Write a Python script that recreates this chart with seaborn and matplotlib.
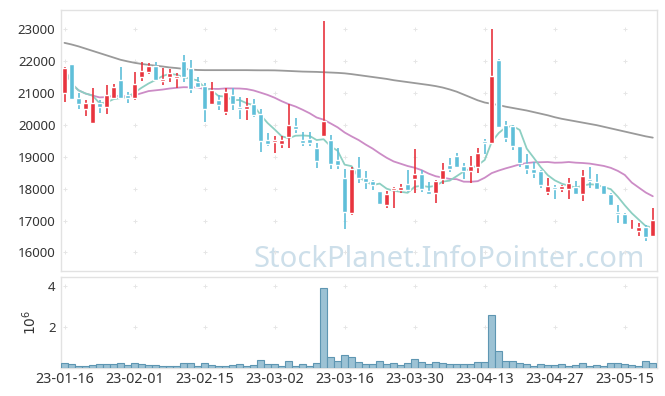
import numpy as np
import pandas as pd
import seaborn as sns
import matplotlib.pyplot as plt

# 일별 시세 (2023-01-16 ~ 2023-05-19, 85 거래일)
opens = [21000, 21900, 20850, 20500, 20060, 20690, 20565, 20830, 21410, 20930,
         20830, 21505, 21660, 21850, 21380, 21500, 21470, 22000, 21770, 21350,
         21220, 20650, 20770, 20410, 20930, 20530, 20490, 20650, 20330, 19520,
         19460, 19400, 19620, 19960, 19520, 19550, 19260, 19655, 19520, 18890,
         18350, 17240, 18650, 18340, 18240, 17920, 17480, 17944, 17950, 18140,
         18300, 18455, 17920, 17850, 18300, 18740, 19020, 18700, 18560, 18690,
         19490, 19440, 22030, 19990, 19960, 19330, 18770, 18630, 18560, 17900,
         18060, 17985, 17995, 18055, 17820, 18300, 18210, 18110, 17830, 17270,
         17220, 16690, 16670, 16800, 16520]
highs = [21800, 21900, 21000, 20770, 21140, 20770, 21240, 21270, 21820, 21030,
         21660, 21975, 21925, 21975, 21770, 21750, 21620, 22180, 22030, 21500,
         21300, 21330, 20930, 21140, 21140, 20880, 20850, 20800, 20500, 19760,
         19660, 19660, 20640, 20220, 19780, 19780, 19420, 23250, 19670, 19260,
         18610, 18690, 18980, 18560, 18270, 17940, 17930, 18060, 18150, 18580,
         19230, 18600, 18200, 18270, 18820, 18950, 19130, 18810, 19020, 19290,
         19570, 22990, 22060, 20120, 20010, 19340, 19100, 18840, 18600, 18350,
         18110, 18110, 18320, 18250, 18600, 18680, 18455, 18120, 17850, 17480,
         17240, 17030, 16910, 16860, 17380]
lows = [20720, 20800, 20510, 20270, 20060, 20360, 20330, 20820, 20840, 20670,
        20770, 21380, 21580, 21390, 21240, 21350, 21160, 21330, 21000, 21140,
        20090, 20620, 20480, 20300, 20480, 20180, 20150, 20250, 19150, 19340,
        19130, 19280, 19260, 19760, 19330, 19340, 18660, 19640, 18610, 18610,
        16750, 17170, 18180, 18000, 17970, 17490, 17380, 17410, 17850, 17900,
        17850, 17900, 17820, 17550, 18140, 18510, 18640, 18290, 18180, 18500,
        19100, 19430, 19900, 19470, 19210, 18680, 18450, 18320, 18010, 17800,
        17670, 17900, 17690, 17800, 17610, 18010, 17950, 17800, 17490, 16930,
        16850, 16670, 16530, 16350, 16520]
closes = [21770, 20820, 20660, 20680, 20670, 20565, 20930, 21180, 20850, 20830,
          21270, 21683, 21850, 21400, 21440, 21630, 21530, 21490, 21120, 21200,
          20490, 21090, 20620, 21025, 20650, 20510, 20590, 20300, 19490, 19400,
          19510, 19520, 19990, 19880, 19440, 19440, 18870, 20115, 18770, 18740,
          17270, 18630, 18340, 18210, 18110, 17510, 17830, 18006, 18060, 17950,
          18455, 17985, 17830, 18235, 18600, 18610, 18690, 18560, 18700, 19120,
          19430, 21530, 19940, 19590, 19330, 18810, 18610, 18500, 18110, 18090,
          18000, 18080, 18180, 17820, 18390, 18235, 17975, 17820, 17500, 17220,
          16880, 16740, 16800, 16490, 17010]
volumes = [230000, 180000, 80000, 80000, 130000, 180000, 180000, 180000, 230000, 130000,
           230000, 180000, 130000, 130000, 80000, 80000, 80000, 230000, 230000, 80000,
           230000, 130000, 80000, 80000, 130000, 180000, 80000, 130000, 370000, 180000,
           180000, 80000, 320000, 80000, 180000, 80000, 230000, 3900000, 560000, 320000,
           660000, 560000, 270000, 180000, 180000, 320000, 180000, 230000, 130000, 230000,
           420000, 270000, 180000, 270000, 230000, 180000, 180000, 180000, 180000, 270000,
           270000, 2600000, 810000, 320000, 320000, 230000, 180000, 80000, 180000, 130000,
           130000, 180000, 80000, 130000, 230000, 80000, 130000, 80000, 230000, 230000,
           180000, 130000, 80000, 320000, 230000]
# 장기 이동평균
ma_long = [22570, 22520, 22460, 22390, 22320, 22250, 22180, 22110, 22040, 21990,
           21945, 21910, 21880, 21855, 21830, 21800, 21780, 21755, 21735, 21720,
           21715, 21715, 21715, 21715, 21715, 21715, 21715, 21712, 21710, 21710,
           21708, 21700, 21690, 21680, 21670, 21665, 21660, 21650, 21640, 21630,
           21615, 21590, 21560, 21530, 21500, 21470, 21440, 21400, 21370, 21340,
           21310, 21280, 21250, 21215, 21170, 21110, 21040, 20950, 20860, 20770,
           20700, 20660, 20620, 20570, 20530, 20490, 20450, 20400, 20350, 20300,
           20240, 20190, 20150, 20110, 20070, 20030, 19990, 19940, 19890, 19840,
           19790, 19740, 19690, 19640, 19600]
tick_labels = ['23-01-16', '23-02-01', '23-02-15', '23-03-02', '23-03-16',
               '23-03-30', '23-04-13', '23-04-27', '23-05-15']

df = pd.DataFrame({'open': opens, 'high': highs, 'low': lows,
                   'close': closes, 'volume': volumes, 'ma_long': ma_long})
df['idx'] = np.arange(len(df))
df['ma5'] = df['close'].rolling(5, min_periods=1).mean()
df['ma20'] = df['close'].rolling(20, min_periods=1).mean()

up_c = '#e8343e'
down_c = '#5fbfd9'
colors = np.where(df['close'] >= df['open'], up_c, down_c)

sns.set_style('white')
plt.rcParams['font.family'] = ['Noto Sans', 'DejaVu Sans']

fig = plt.figure(figsize=(6.65, 3.96), dpi=100)
ax1 = fig.add_axes([61 / 665, 1 - 271 / 396, 596 / 665, 261 / 396])
ax2 = fig.add_axes([61 / 665, 1 - 368 / 396, 596 / 665, 91 / 396])

xticks = np.arange(0, len(df), 10)
yticks = np.arange(16000, 23001, 1000)

# 워터마크
ax1.text(0.98, 0.016, 'StockPlanet.InfoPointer.com', transform=ax1.transAxes,
         ha='right', va='baseline', fontsize=21, color='#cddfea', zorder=0)

# 격자 십자표시
gx, gy = np.meshgrid(xticks, yticks)
ax1.scatter(gx.ravel(), gy.ravel(), marker='+', s=12, color='#e6e6e6', lw=0.7, zorder=0)

# 이동평균선
sns.lineplot(x=df['idx'], y=df['ma_long'], ax=ax1, color='#9a9a9a', lw=1.3, zorder=2)
sns.lineplot(x=df['idx'], y=df['ma20'], ax=ax1, color='#cc8cc6', lw=1.3, zorder=2)
sns.lineplot(x=df['idx'], y=df['ma5'], ax=ax1, color='#8dcfc2', lw=1.3, zorder=2)

# 캔들
body = (df['close'] - df['open']).abs().clip(lower=40)
ax1.vlines(df['idx'], df['low'], df['high'], colors=colors, lw=1.2, zorder=3)
ax1.bar(df['idx'], body, bottom=df[['open', 'close']].min(axis=1),
        width=0.74, color=colors, zorder=4)

ax1.set_xlim(-0.5, 84.6)
ax1.set_ylim(15420, 23600)
ax1.set_yticks(yticks)
ax1.set_xticks(xticks)
ax1.set_xticklabels([])
ax1.set_xlabel('')
ax1.set_ylabel('')

# 거래량
sns.barplot(x=df['idx'], y=df['volume'] / 1e6, ax=ax2, color='#9cc2d4',
            edgecolor='#5e96b2', linewidth=0.8, width=1.0, saturation=1, zorder=3)
vx, vy = np.meshgrid(xticks, [2, 4])
ax2.scatter(vx.ravel(), vy.ravel(), marker='+', s=12, color='#e6e6e6', lw=0.7, zorder=0)
ax2.set_xlim(-0.5, 84.6)
ax2.set_ylim(0, 4.45)
ax2.set_yticks([2, 4])
ax2.set_xticks(xticks)
ax2.set_xticklabels(tick_labels)
ax2.set_xlabel('')
ax2.set_ylabel(r'$10^6$', fontsize=10, color='#333333', labelpad=6)

for ax in (ax1, ax2):
    ax.tick_params(length=0, labelsize=9.5, labelcolor='#333333', pad=4)
    for s in ax.spines.values():
        s.set_color('#e2e2e2')
        s.set_linewidth(1)
ax2.tick_params(axis='x', labelsize=10.3, pad=3)

fig.savefig('out.png', dpi=100)
